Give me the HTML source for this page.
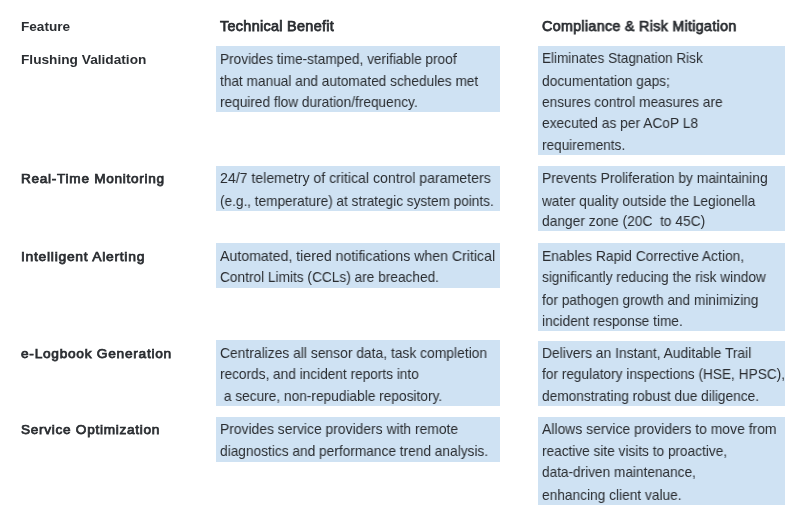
<!DOCTYPE html>
<html><head><meta charset="utf-8"><style>
html,body{margin:0;padding:0;background:#fff;}
body{width:799px;height:523px;position:relative;overflow:hidden;font-family:"Liberation Sans",sans-serif;color:#2a2d31;}
.b{position:absolute;background:#cfe2f3;}
.t{position:absolute;font-size:14.3px;line-height:21.5px;white-space:pre;transform-origin:0 0;will-change:transform;}
.h{font-weight:bold;font-size:13.6px;}
.k{-webkit-text-stroke:0.75px #2a2d31;letter-spacing:0.3px;font-size:14.4px;}
.m{-webkit-text-stroke:0.75px #2a2d31;letter-spacing:0.7px;font-size:13.6px;}
</style></head><body>
<div class="b" style="left:216px;top:45.7px;width:284.00px;height:65.90px"></div>
<div class="b" style="left:537.9px;top:45.6px;width:246.70px;height:109.50px"></div>
<div class="b" style="left:216px;top:166.1px;width:284.00px;height:44.90px"></div>
<div class="b" style="left:537.9px;top:166.2px;width:246.70px;height:64.40px"></div>
<div class="b" style="left:216px;top:243px;width:284.00px;height:44.60px"></div>
<div class="b" style="left:537.9px;top:243px;width:246.70px;height:88.20px"></div>
<div class="b" style="left:216px;top:340px;width:284.00px;height:66.00px"></div>
<div class="b" style="left:537.9px;top:340.5px;width:246.70px;height:65.50px"></div>
<div class="b" style="left:216px;top:417px;width:284.00px;height:44.80px"></div>
<div class="b" style="left:537.9px;top:417px;width:246.70px;height:88.00px"></div>
<div class="t h" style="left:21.4px;top:15.54px;transform:scaleX(0.9917)">Feature</div>
<div class="t k" style="left:220.2px;top:16.26px;transform:scaleX(1.0018)">Technical Benefit</div>
<div class="t k" style="left:542.4px;top:16.26px;transform:scaleX(0.9949)">Compliance &amp; Risk Mitigation</div>
<div class="t h" style="left:21.2px;top:48.54px;transform:scaleX(1.0059)">Flushing Validation</div>
<div class="t m" style="left:21.2px;top:167.54px;transform:scaleX(1.0025)">Real-Time Monitoring</div>
<div class="t m" style="left:21.2px;top:245.54px;transform:scaleX(1.0228)">Intelligent Alerting</div>
<div class="t m" style="left:21.0px;top:342.54px;transform:scaleX(1.0107)">e-Logbook Generation</div>
<div class="t m" style="left:21.2px;top:418.54px;transform:scaleX(1.0026)">Service Optimization</div>
<div class="t" style="left:220.2px;top:49.30px;transform:scaleX(0.9540)">Provides time-stamped, verifiable proof</div>
<div class="t" style="left:220.2px;top:71.30px;transform:scaleX(0.9555)">that manual and automated schedules met</div>
<div class="t" style="left:220.2px;top:92.30px;transform:scaleX(0.9543)">required flow duration/frequency.</div>
<div class="t" style="left:220.2px;top:168.30px;transform:scaleX(0.9876)">24/7 telemetry of critical control parameters</div>
<div class="t" style="left:220.2px;top:191.30px;transform:scaleX(0.9517)">(e.g., temperature) at strategic system points.</div>
<div class="t" style="left:220.2px;top:246.30px;transform:scaleX(0.9892)">Automated, tiered notifications when Critical</div>
<div class="t" style="left:220.2px;top:267.30px;transform:scaleX(0.9570)">Control Limits (CCLs) are breached.</div>
<div class="t" style="left:220.2px;top:343.30px;transform:scaleX(0.9687)">Centralizes all sensor data, task completion</div>
<div class="t" style="left:220.2px;top:364.30px;transform:scaleX(0.9548)">records, and incident reports into</div>
<div class="t" style="left:220.2px;top:386.30px;transform:scaleX(0.9584)"> a secure, non-repudiable repository.</div>
<div class="t" style="left:220.2px;top:419.30px;transform:scaleX(0.9698)">Provides service providers with remote</div>
<div class="t" style="left:220.2px;top:441.30px;transform:scaleX(0.9584)">diagnostics and performance trend analysis.</div>
<div class="t" style="left:542.2px;top:48.30px;transform:scaleX(0.9447)">Eliminates Stagnation Risk</div>
<div class="t" style="left:542.2px;top:71.30px;transform:scaleX(0.9637)">documentation gaps;</div>
<div class="t" style="left:542.2px;top:92.30px;transform:scaleX(0.9545)">ensures control measures are</div>
<div class="t" style="left:542.2px;top:113.30px;transform:scaleX(0.9640)">executed as per ACoP L8</div>
<div class="t" style="left:542.2px;top:135.30px;transform:scaleX(0.9512)">requirements.</div>
<div class="t" style="left:542.2px;top:168.30px;transform:scaleX(0.9690)">Prevents Proliferation by maintaining</div>
<div class="t" style="left:542.2px;top:191.30px;transform:scaleX(0.9543)">water quality outside the Legionella</div>
<div class="t" style="left:542.2px;top:211.30px;transform:scaleX(0.9642)">danger zone (20C  to 45C)</div>
<div class="t" style="left:542.2px;top:246.30px;transform:scaleX(0.9673)">Enables Rapid Corrective Action,</div>
<div class="t" style="left:542.2px;top:267.30px;transform:scaleX(0.9547)">significantly reducing the risk window</div>
<div class="t" style="left:542.2px;top:290.30px;transform:scaleX(0.9557)">for pathogen growth and minimizing</div>
<div class="t" style="left:542.2px;top:311.30px;transform:scaleX(0.9576)">incident response time.</div>
<div class="t" style="left:542.2px;top:343.30px;transform:scaleX(0.9684)">Delivers an Instant, Auditable Trail</div>
<div class="t" style="left:542.2px;top:364.30px;transform:scaleX(0.9557)">for regulatory inspections (HSE, HPSC),</div>
<div class="t" style="left:542.2px;top:386.30px;transform:scaleX(0.9582)">demonstrating robust due diligence.</div>
<div class="t" style="left:542.2px;top:419.30px;transform:scaleX(0.9742)">Allows service providers to move from</div>
<div class="t" style="left:542.2px;top:441.30px;transform:scaleX(0.9544)">reactive site visits to proactive,</div>
<div class="t" style="left:542.2px;top:462.30px;transform:scaleX(0.9537)">data-driven maintenance,</div>
<div class="t" style="left:542.2px;top:485.30px;transform:scaleX(0.9597)">enhancing client value.</div>
</body></html>
